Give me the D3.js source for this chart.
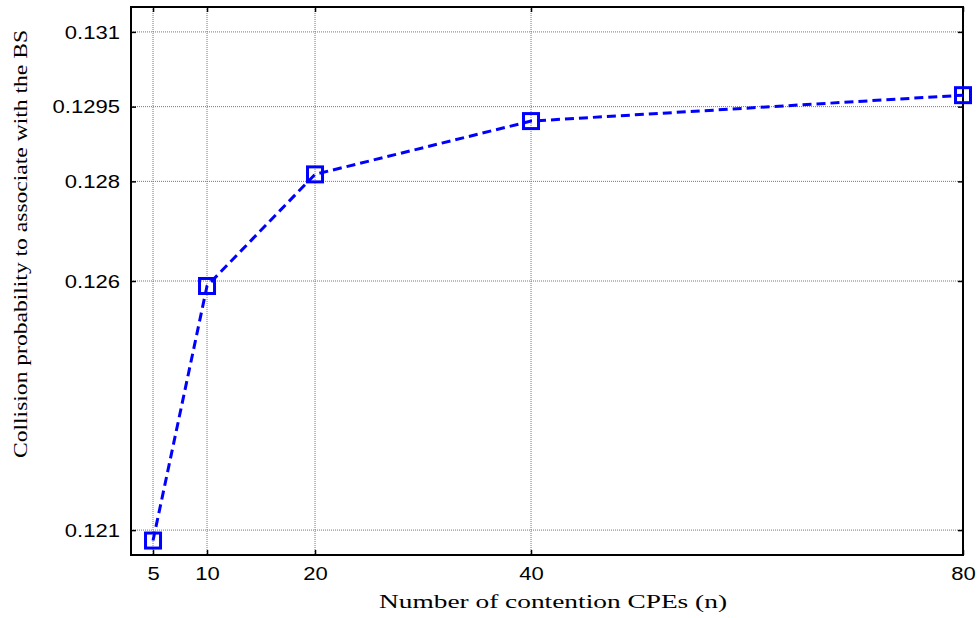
<!DOCTYPE html>
<html><head><meta charset="utf-8">
<script src="https://cdn.jsdelivr.net/npm/d3@7"></script>
<style>body{margin:0;background:#fff}</style>
</head><body>
<svg id="c" width="979" height="618"></svg>
<script>
const cpes = [5, 10, 20, 40, 80];
const collisionProb = [0.12079, 0.1259, 0.12814, 0.12921, 0.12973];
const xTicks = [5, 10, 20, 40, 80];
const yTicks = [0.121, 0.126, 0.128, 0.1295, 0.131];
const yTickLabels = ["0.121", "0.126", "0.128", "0.1295", "0.131"];

const svg = d3.select("#c");
const L = 131, R = 963, T = 7, B = 555;
const x = d3.scaleLinear().domain([2.96, 80]).range([L, R]);
const y = d3.scaleLinear().domain([0.1205, 0.1315]).range([B, T]);

// grid
const g = svg.append("g");
g.selectAll(".gx").data(xTicks).join("line")
  .attr("x1", d => x(d)).attr("x2", d => x(d)).attr("y1", T).attr("y2", B)
  .attr("stroke", "#777").attr("stroke-width", 1).attr("stroke-dasharray", "1,1");
g.selectAll(".gy").data(yTicks).join("line")
  .attr("y1", d => y(d)).attr("y2", d => y(d)).attr("x1", L).attr("x2", R)
  .attr("stroke", "#777").attr("stroke-width", 1).attr("stroke-dasharray", "1,1");

function stretch(sel, k) {
  sel.each(function() {
    const w = this.getComputedTextLength();
    d3.select(this).attr("textLength", w * k).attr("lengthAdjust", "spacingAndGlyphs");
  });
}

// axes with inward ticks
const axB = d3.axisBottom(x).tickValues(xTicks).tickSize(-5).tickPadding(12).tickFormat(d3.format("d"));
const axT = d3.axisTop(x).tickValues(xTicks).tickSize(-5).tickFormat("");
const axL = d3.axisLeft(y).tickValues(yTicks).tickSize(-5).tickPadding(11).tickFormat((d, i) => yTickLabels[i]);
const axR = d3.axisRight(y).tickValues(yTicks).tickSize(-5).tickFormat("");

function style(sel) {
  sel.select(".domain").remove();
  sel.selectAll("line").attr("stroke", "#000").attr("stroke-width", 1.5);
  sel.selectAll("text").attr("font-family", "Arial, 'Liberation Sans', sans-serif").attr("font-size", 19).attr("fill", "#000");
  stretch(sel.selectAll("text"), 1.16);
}
svg.append("g").attr("transform", `translate(0,${B})`).call(axB).call(style);
svg.append("g").attr("transform", `translate(0,${T})`).call(axT).call(style);
svg.append("g").attr("transform", `translate(${L},0)`).call(axL).call(style);
svg.append("g").attr("transform", `translate(${R},0)`).call(axR).call(style);

// frame
svg.append("rect").attr("x", L).attr("y", T).attr("width", R - L).attr("height", B - T)
  .attr("fill", "none").attr("stroke", "#000").attr("stroke-width", 2);

// line
const data = cpes.map((c, i) => ({c, v: collisionProb[i]}));
svg.append("path").datum(data)
  .attr("d", d3.line().x(d => x(d.c)).y(d => y(d.v)))
  .attr("fill", "none").attr("stroke", "#0000ff").attr("stroke-width", 3)
  .attr("stroke-dasharray", "9,5");

const s = 15;
svg.selectAll(".m").data(data).join("rect")
  .attr("x", d => x(d.c) - s / 2).attr("y", d => y(d.v) - s / 2)
  .attr("width", s).attr("height", s)
  .attr("fill", "none").attr("stroke", "#0000ff").attr("stroke-width", 3);

// titles
svg.append("text").attr("x", 553).attr("y", 608).attr("text-anchor", "middle")
  .attr("font-family", "'Liberation Serif', 'Times New Roman', serif").attr("font-size", 19)
  .attr("textLength", 348).attr("lengthAdjust", "spacingAndGlyphs")
  .text("Number of contention CPEs (n)");
svg.append("text").attr("transform", "translate(27,244) rotate(-90)").attr("text-anchor", "middle")
  .attr("font-family", "'Liberation Serif', 'Times New Roman', serif").attr("font-size", 19)
  .attr("textLength", 428).attr("lengthAdjust", "spacingAndGlyphs")
  .text("Collision probability to associate with the BS");
</script>
</body></html>
